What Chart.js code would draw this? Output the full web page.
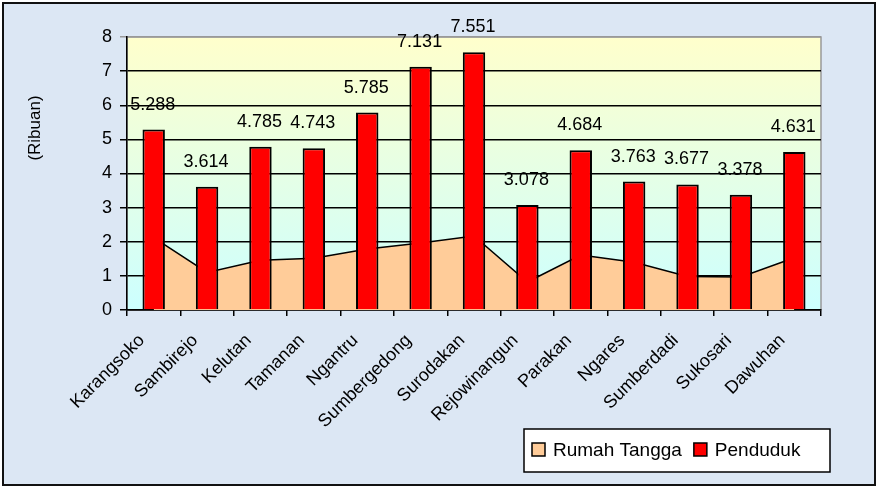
<!DOCTYPE html>
<html>
<head>
<meta charset="utf-8">
<script src="https://cdn.jsdelivr.net/npm/chart.js@4"></script>
<style>
    html, body { margin:0; padding:0; background:#fff; }
    canvas { display:block; }
</style>
</head>
<body>
<canvas id="chart" width="878" height="487"></canvas>
<script>
// data
const categories = ['Karangsoko','Sambirejo','Kelutan','Tamanan','Ngantru','Sumbergedong','Surodakan','Rejowinangun','Parakan','Ngares','Sumberdadi','Sukosari','Dawuhan'];
const rumahTangga = [2.12, 1.10, 1.46, 1.52, 1.79, 1.96, 2.17, 0.82, 1.61, 1.40, 0.98, 0.97, 1.53];
const penduduk = [5.288, 3.614, 4.785, 4.743, 5.785, 7.131, 7.551, 3.078, 4.684, 3.763, 3.677, 3.378, 4.631];
const seriesNames = ['Rumah Tangga', 'Penduduk'];
const yTitle = '(Ribuan)';
const yMin = 0, yMax = 8, yStep = 1;

const FONT = "'Liberation Sans', Arial, sans-serif";

// latar, bingkai dan gradien area plot
const backdrop = {
    id: 'backdrop',
    beforeDraw(chart){
        const {ctx, chartArea:a, width, height} = chart;
        ctx.save();
        ctx.fillStyle = '#fff';
        ctx.fillRect(0, 0, width, height);
        ctx.fillStyle = '#dce7f4';
        ctx.fillRect(3, 3, width-6, height-5);
        ctx.strokeStyle = '#111';
        ctx.lineWidth = 2;
        ctx.strokeRect(3, 3, width-6, height-5);
        const g = ctx.createLinearGradient(0, a.top, 0, a.bottom);
        g.addColorStop(0, '#ffffcc');
        g.addColorStop(1, '#ccffff');
        ctx.fillStyle = g;
        ctx.fillRect(a.left, a.top, a.right-a.left, a.bottom-a.top);
        ctx.strokeStyle = '#999';
        ctx.lineWidth = 1.5;
        ctx.strokeRect(a.left, a.top, a.right-a.left, a.bottom-a.top);
        ctx.restore();
    }
};

// label nilai di atas batang
const barLabels = {
    id: 'barLabels',
    afterDatasetsDraw(chart){
        const ctx = chart.ctx;
        const meta = chart.getDatasetMeta(1);
        ctx.save();
        ctx.font = '18px ' + FONT;
        ctx.fillStyle = '#000';
        ctx.textAlign = 'center';
        ctx.textBaseline = 'middle';
        meta.data.forEach((bar, i)=>{
            ctx.fillText(penduduk[i].toFixed(3), bar.x - 1, bar.y - 25);
        });
        ctx.restore();
    }
};

// judul sumbu y + legenda berbingkai
const extras = {
    id: 'extras',
    afterDraw(chart){
        const ctx = chart.ctx;
        ctx.save();
        ctx.font = '17px ' + FONT;
        ctx.fillStyle = '#000';
        ctx.translate(35, 128);
        ctx.rotate(-Math.PI/2);
        ctx.textAlign = 'center';
        ctx.textBaseline = 'middle';
        ctx.fillText(yTitle, 0, 0);
        ctx.restore();

        ctx.save();
        ctx.fillStyle = '#fff';
        ctx.fillRect(524, 429, 306, 43);
        ctx.strokeStyle = '#000';
        ctx.lineWidth = 1.5;
        ctx.strokeRect(524, 429, 306, 43);
        ctx.font = '19px ' + FONT;
        ctx.textBaseline = 'middle';
        let x = 532;
        chart.data.datasets.forEach(ds=>{
            ctx.fillStyle = ds.backgroundColor;
            ctx.fillRect(x, 443, 13, 13);
            ctx.strokeStyle = '#000';
            ctx.lineWidth = 1.5;
            ctx.strokeRect(x, 443, 13, 13);
            ctx.fillStyle = '#000';
            ctx.fillText(ds.label, x + 21, 451);
            x += 21 + ctx.measureText(ds.label).width + 12;
        });
        ctx.restore();
    }
};

const ctx = document.getElementById('chart').getContext('2d');
const chart = new Chart(ctx, {
    type: 'bar',
    data: {
        labels: categories,
        datasets: [
            {
                type: 'line',
                label: seriesNames[0],
                data: rumahTangga,
                backgroundColor: '#ffcc99',
                borderColor: '#000',
                borderWidth: 1.5,
                fill: 'origin',
                tension: 0,
                pointRadius: 0,
                order: 2
            },
            {
                type: 'bar',
                label: seriesNames[1],
                data: penduduk,
                backgroundColor: '#ff0000',
                borderColor: '#000',
                borderWidth: 2,
                barPercentage: 0.42,
                categoryPercentage: 1,
                order: 1
            }
        ]
    },
    options: {
        responsive: false,
        animation: false,
        layout: { padding: { left: 0, right: 57, top: 37, bottom: 0 } },
        plugins: { legend: { display: false }, tooltip: { enabled: false } },
        scales: {
            x: {
                grid: { offset: true, drawOnChartArea: false, drawTicks: true, tickLength: 6, color: '#000', lineWidth: 1.5 },
                border: { color: '#000', width: 1.5 },
                ticks: { autoSkip: false, minRotation: 45, maxRotation: 45, labelOffset: -12, padding: 14, color: '#000', font: { family: FONT, size: 18 } },
                afterFit: s => { s.height = 177; }
            },
            y: {
                min: yMin, max: yMax,
                ticks: { stepSize: yStep, padding: 8, color: '#000', font: { family: FONT, size: 18 } },
                grid: { color: c => (c.tick && c.tick.value === yMax) ? '#999' : '#000', lineWidth: 1.5, tickLength: 7 },
                border: { color: '#000', width: 1.5 },
                afterFit: s => { s.width = 127; }
            }
        }
    },
    plugins: [backdrop, barLabels, extras]
});
</script>
</body>
</html>
